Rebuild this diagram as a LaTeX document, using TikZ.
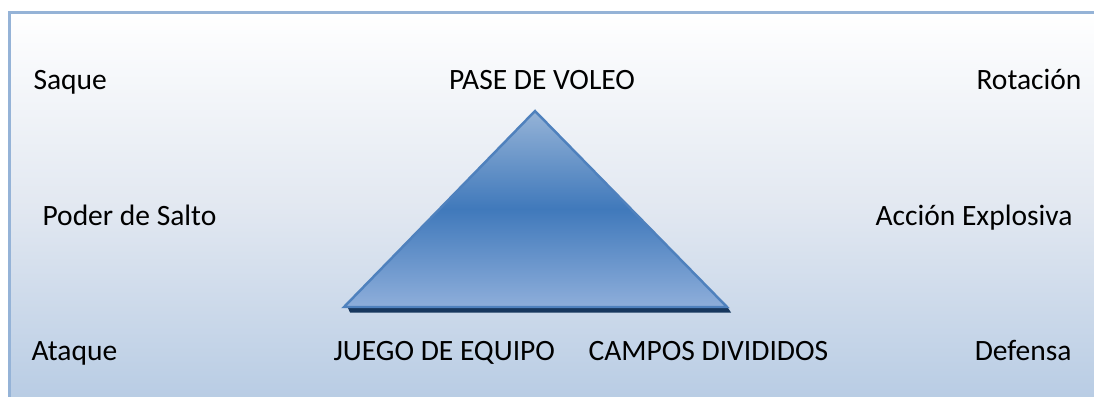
\documentclass[tikz,border=0pt]{standalone}
\usepackage{fontspec}
\setmainfont{Carlito}
\usetikzlibrary{positioning}

\definecolor{frameBlue}{RGB}{149,179,215}
\definecolor{bgMid}{RGB}{226,232,241}
\definecolor{bgLow}{RGB}{184,204,228}
\definecolor{pyrLight}{RGB}{149,179,215}
\definecolor{pyrMid}{RGB}{64,121,187}
\definecolor{pyrLow}{RGB}{142,174,218}
\definecolor{pyrEdge}{RGB}{79,129,189}
\definecolor{pyrShadow}{RGB}{23,55,94}

\begin{document}
\begin{tikzpicture}[x=0.02cm, y=-0.02cm, semithick]
	\tikzstyle{lbl} = [inner sep=0pt, font={\fontsize{16.8}{20}\selectfont}];
	\tikzstyle{lblLeft} = [lbl, anchor=base west];
	\tikzstyle{lblRight} = [lbl, anchor=base east];
	\tikzstyle{lblMid} = [lbl, anchor=base];
	\tikzstyle{pyramid} = [draw=pyrEdge, line width=1.4pt, line join=miter, top color=pyrLight, bottom color=pyrLow, middle color=pyrMid];

	\useasboundingbox (0,0) rectangle (1094,396);

	% panel
	\shade[top color=white, bottom color=bgLow, middle color=bgMid] (10,13) rectangle (1100,400);
	\draw[frameBlue, line width=1.5pt] (9.5,400) -- (9.5,12.5) -- (1100,12.5);

	% pyramid
	\coordinate (apex) at (535,111);
	\coordinate (baseL) at (344,307);
	\coordinate (baseR) at (727,307);
	\fill[pyrShadow] (348,308) -- (728,308) -- (731,312.5) -- (350,312.5) -- cycle;
	\path[pyramid] (apex) -- (baseR) -- (baseL) -- cycle;

	% labels
	\node[lblLeft](saque) at (33,89) {Saque};
	\node[lblMid](voleo) at (542,89) {PASE DE VOLEO};
	\node[lblRight](rotacion) at (1082,89) {Rotación};
	\node[lblLeft](salto) at (42,225) {Poder de Salto};
	\node[lblRight](explosiva) at (1073,225) {Acción Explosiva};
	\node[lblLeft](ataque) at (31,360) {Ataque};
	\node[lblLeft](equipo) at (333,360) {JUEGO DE EQUIPO};
	\node[lblLeft](campos) at (588,360) {CAMPOS DIVIDIDOS};
	\node[lblRight](defensa) at (1072,360) {Defensa};
\end{tikzpicture}
\end{document}
